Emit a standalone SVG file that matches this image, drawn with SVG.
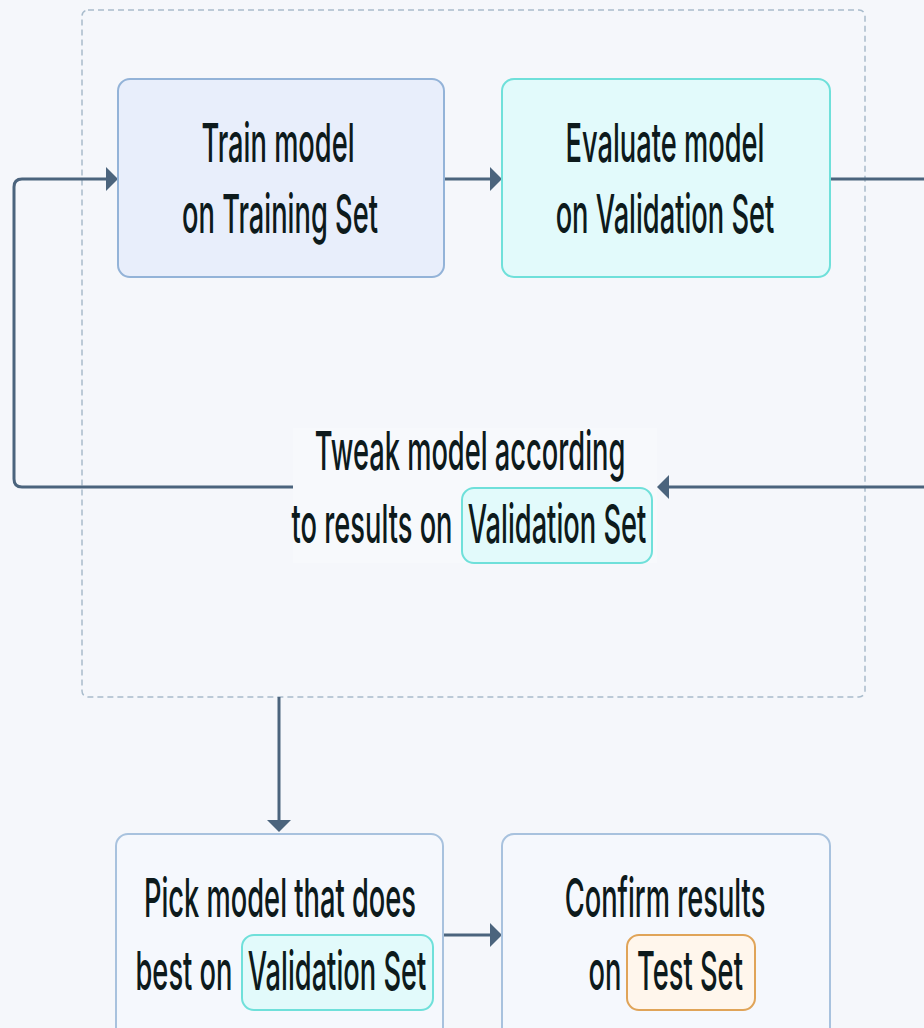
<svg xmlns="http://www.w3.org/2000/svg" width="924" height="1028" viewBox="0 0 924 1028">
<defs>
<style>
.t{font-family:Inter,"Liberation Sans",sans-serif;font-size:54px;font-weight:500;fill:#0d1a1c;text-anchor:middle}
.ln{fill:none;stroke:#4b647d;stroke-width:3}
.ah{fill:#4b647d}
.cy{fill:#e2fafb;stroke:#6fe0da;stroke-width:2}
</style>
</defs>
<rect width="924" height="1028" fill="#f5f7fb"/>
<rect id="group" x="82" y="10" width="783" height="687" rx="6" fill="none" stroke="#a9bccc" stroke-width="1.5" stroke-dasharray="6 4"/>
<g id="connectors">
<path class="ln" d="M444,179 H492"/><path class="ah" d="M490,167 L502,179 L490,191 z"/>
<path class="ln" d="M830,179 H924"/>
<path class="ln" d="M924,487 H668"/><path class="ah" d="M669,475 L657,487 L669,499 z"/>
<path class="ln" d="M293,487 H22 Q14,487 14,479 V187 Q14,179 22,179 H108"/><path class="ah" d="M106,167 L118,179 L106,191 z"/>
<path class="ln" d="M279,697 V822"/><path class="ah" d="M267,820 L279,832 L291,820 z"/>
<path class="ln" d="M443,935 H492"/><path class="ah" d="M490,923 L502,935 L490,947 z"/>
</g>
<g id="train">
<rect x="118" y="79" width="326" height="198" rx="12" fill="#e8eefb" stroke="#93b3d8" stroke-width="2"/>
<text class="t" transform="translate(278,162) scale(0.505,1)">Train model</text>
<text class="t" transform="translate(280,233) scale(0.505,1)">on Training Set</text>
</g>
<g id="evaluate">
<rect x="502" y="79" width="328" height="198" rx="12" fill="#e2fafb" stroke="#6fe0da" stroke-width="2"/>
<text class="t" transform="translate(665,162) scale(0.505,1)">Evaluate model</text>
<text class="t" transform="translate(665,233) scale(0.505,1)">on Validation Set</text>
</g>
<g id="tweak">
<rect x="293" y="428" width="364" height="135" fill="#f7f9fc"/>
<text class="t" transform="translate(470,470) scale(0.505,1)">Tweak model according</text>
<rect class="cy" x="462" y="488" width="190" height="75" rx="12"/>
<text class="t" transform="translate(372,543) scale(0.505,1)">to results on</text>
<text class="t" transform="translate(557,543) scale(0.505,1)">Validation Set</text>
</g>
<g id="pick">
<rect x="116" y="834" width="327" height="210" rx="12" fill="#f5f8fd" stroke="#a8c2de" stroke-width="2"/>
<text class="t" transform="translate(280,917) scale(0.505,1)">Pick model that does</text>
<rect class="cy" x="242" y="935" width="191" height="75" rx="12"/>
<text class="t" transform="translate(184,990) scale(0.505,1)">best on</text>
<text class="t" transform="translate(337,990) scale(0.505,1)">Validation Set</text>
</g>
<g id="confirm">
<rect x="502" y="834" width="328" height="210" rx="12" fill="#f5f8fd" stroke="#a8c2de" stroke-width="2"/>
<text class="t" transform="translate(665,917) scale(0.505,1)">Confirm results</text>
<rect x="627" y="935" width="128" height="75" rx="12" fill="#fff6ec" stroke="#e0a458" stroke-width="2"/>
<text class="t" transform="translate(605,990) scale(0.505,1)">on</text>
<text class="t" transform="translate(690,990) scale(0.505,1)">Test Set</text>
</g>
</svg>
